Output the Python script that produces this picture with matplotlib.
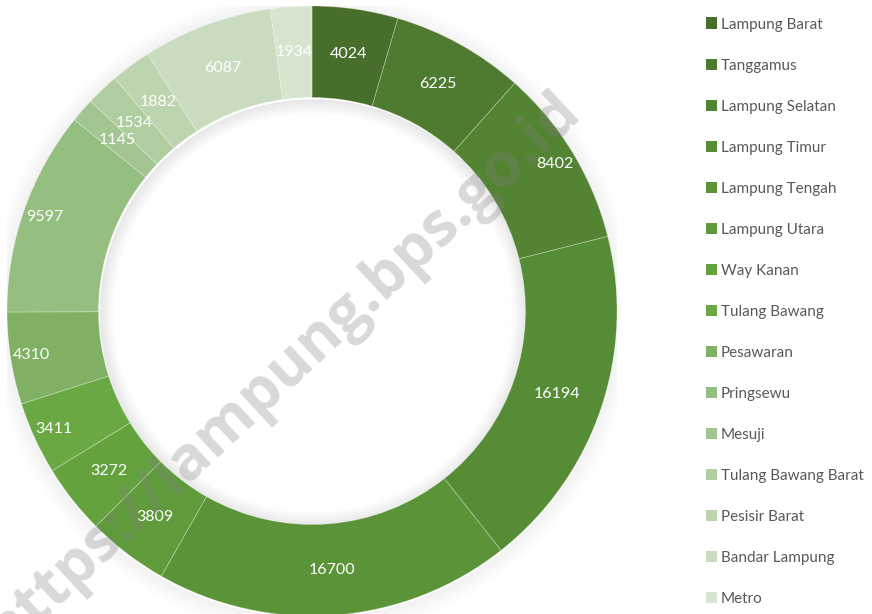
import matplotlib
matplotlib.use('Agg')
import matplotlib.pyplot as plt
from matplotlib.patches import Wedge, Rectangle

# Data (clockwise from 12 o'clock)
regions = ["Lampung Barat", "Tanggamus", "Lampung Selatan", "Lampung Timur",
           "Lampung Tengah", "Lampung Utara", "Way Kanan", "Tulang Bawang",
           "Pesawaran", "Pringsewu", "Mesuji", "Tulang Bawang Barat",
           "Pesisir Barat", "Bandar Lampung", "Metro"]
values = [4024, 6225, 8402, 16194, 16700, 3809, 3272, 3411,
          4310, 9597, 1145, 1534, 1882, 6087, 1934]
colors = ["#476e2a", "#4e7b2f", "#538433", "#568c35", "#5a9338",
          "#5f9b3a", "#64a23d", "#6aa843", "#80b063", "#95be81",
          "#a3c591", "#b0cda0", "#bdd5af", "#cadcbf", "#d7e5cf"]

# labels that the original places near the outer rim
outer_labels = {"Lampung Selatan", "Tulang Bawang", "Pesawaran", "Pringsewu"}

plt.rcParams['font.family'] = ['Lato', 'DejaVu Sans']

W, H = 872, 614
fig = plt.figure(figsize=(W / 100, H / 100), dpi=100, facecolor='white')

cx, cy, R = 312, 303, 305
ax = fig.add_axes([(cx - R) / W, (cy - R) / H, 2 * R / W, 2 * R / H])

# soft shadows outside the ring and inside the hole
for i in range(12):
    ax.add_patch(Wedge((0, -0.006), 1.0 + 0.005 * (i + 1), 0, 360, width=0.005,
                       color='black', alpha=0.05 * (1 - i / 12), lw=0, zorder=0))
    ax.add_patch(Wedge((0.004, -0.006), 0.70, 0, 360, width=0.004 * (i + 1),
                       color='black', alpha=0.009, lw=0, zorder=0.6))

total = sum(values)
wedges, texts, autotexts = ax.pie(
    values, colors=colors, startangle=90, counterclock=False, radius=1.0,
    wedgeprops=dict(width=0.30, edgecolor=(1, 1, 1, 0.3), linewidth=0.6),
    autopct=lambda p: f"{round(p * total / 100)}", pctdistance=0.85,
    textprops=dict(color='white', fontsize=11.5))
for name, t in zip(regions, autotexts):
    t.set_zorder(5)
    if name in outer_labels:
        x, y = t.get_position()
        t.set_position((x * 0.93 / 0.85, y * 0.93 / 0.85))

ax.set_xlim(-1, 1)
ax.set_ylim(-1, 1)
ax.set_aspect('equal')
ax.axis('off')

# legend, drawn by hand to keep the row spacing of the original
row0, step = 23, 41.07
for i, (name, col) in enumerate(zip(regions, colors)):
    yc = H - (row0 + i * step)
    fig.patches.append(Rectangle((706 / W, (yc - 5.5) / H), 11 / W, 11 / H,
                                 transform=fig.transFigure, facecolor=col,
                                 edgecolor='none'))
    fig.text(721 / W, yc / H, name, fontsize=11, color='#595959',
             ha='left', va='center_baseline')

# watermark
fig.text(283 / W, 1 - 372 / H, "https://lampung.bps.go.id", fontsize=44,
         fontweight='bold', family=['Open Sans', 'DejaVu Sans'],
         color='#808080', alpha=0.3, rotation=43, ha='center', va='center',
         zorder=10)

fig.savefig("out.png", dpi=100, facecolor='white')
